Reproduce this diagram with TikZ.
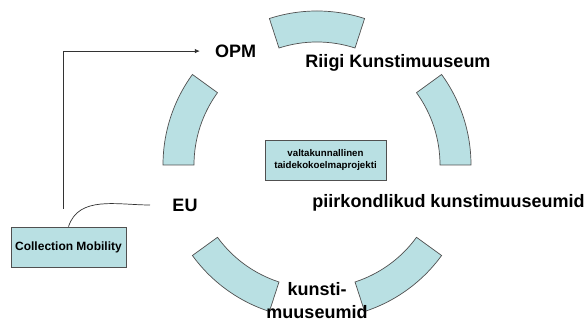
\documentclass[tikz,border=0pt]{standalone}
\usepackage{fontspec}
\setmainfont{Liberation Sans}
\usetikzlibrary{arrows.meta,calc}
\definecolor{segfill}{RGB}{185,224,227}
\definecolor{segline}{RGB}{80,80,80}
\tikzset{
  seg/.style={fill=segfill,draw=segline,line width=0.7pt},
  biglabel/.style={font=\fontsize{18}{22.5}\selectfont\bfseries,inner sep=0pt,anchor=base},
  infobox/.style={fill=segfill,draw=segline,line width=0.7pt,align=center,inner sep=0pt},
  conn/.style={draw=black!80,line width=0.7pt},
}
\begin{document}
\begin{tikzpicture}[x=1pt,y=1pt]
\useasboundingbox (0,0) rectangle (587,323);
\fill[white] (0,0) rectangle (587,323);
\coordinate (c) at (317,158);
\foreach \a in {72,0,-72,-144,144}{
  \pgfmathsetmacro{\b}{\a+36}
  \path[seg] ($(c)+(\a:123)$) -- ($(c)+(\a:154)$)
    arc[start angle=\a,end angle=\b,radius=154]
    -- ($(c)+(\b:123)$)
    arc[start angle=\b,end angle=\a,radius=123] -- cycle;
}
\node[biglabel] (opm) at (235.5,265) {OPM};
\node[biglabel] (riigi) at (398,255.5) {Riigi Kunstimuuseum};
\node[biglabel] (eu) at (185,111) {EU};
\node[biglabel] (piir) at (448.5,115) {piirkondlikud kunstimuuseumid};
\node[biglabel,align=center] (kunsti) at (317,4.5) {kunsti-\\muuseumid};
\node[infobox,minimum width=121pt,minimum height=40pt,font=\fontsize{9.7}{12.5}\selectfont\bfseries] (valta) at (325.5,163) {valtakunnallinen\\taidekokoelmaprojekti};
\node[infobox,minimum width=115pt,minimum height=40pt,font=\fontsize{12}{14}\selectfont\bfseries] (coll) at (68.5,76) {Collection Mobility};
\coordinate (a0) at (63,114);
\coordinate (euend) at (150,118);
\draw[conn,-{Latex[length=5pt,width=4.5pt]}] (a0) |- ([xshift=-15pt,yshift=0.7pt]opm.west);
\draw[conn] (coll.north) to[out=72,in=180] (euend);
\end{tikzpicture}
\end{document}
